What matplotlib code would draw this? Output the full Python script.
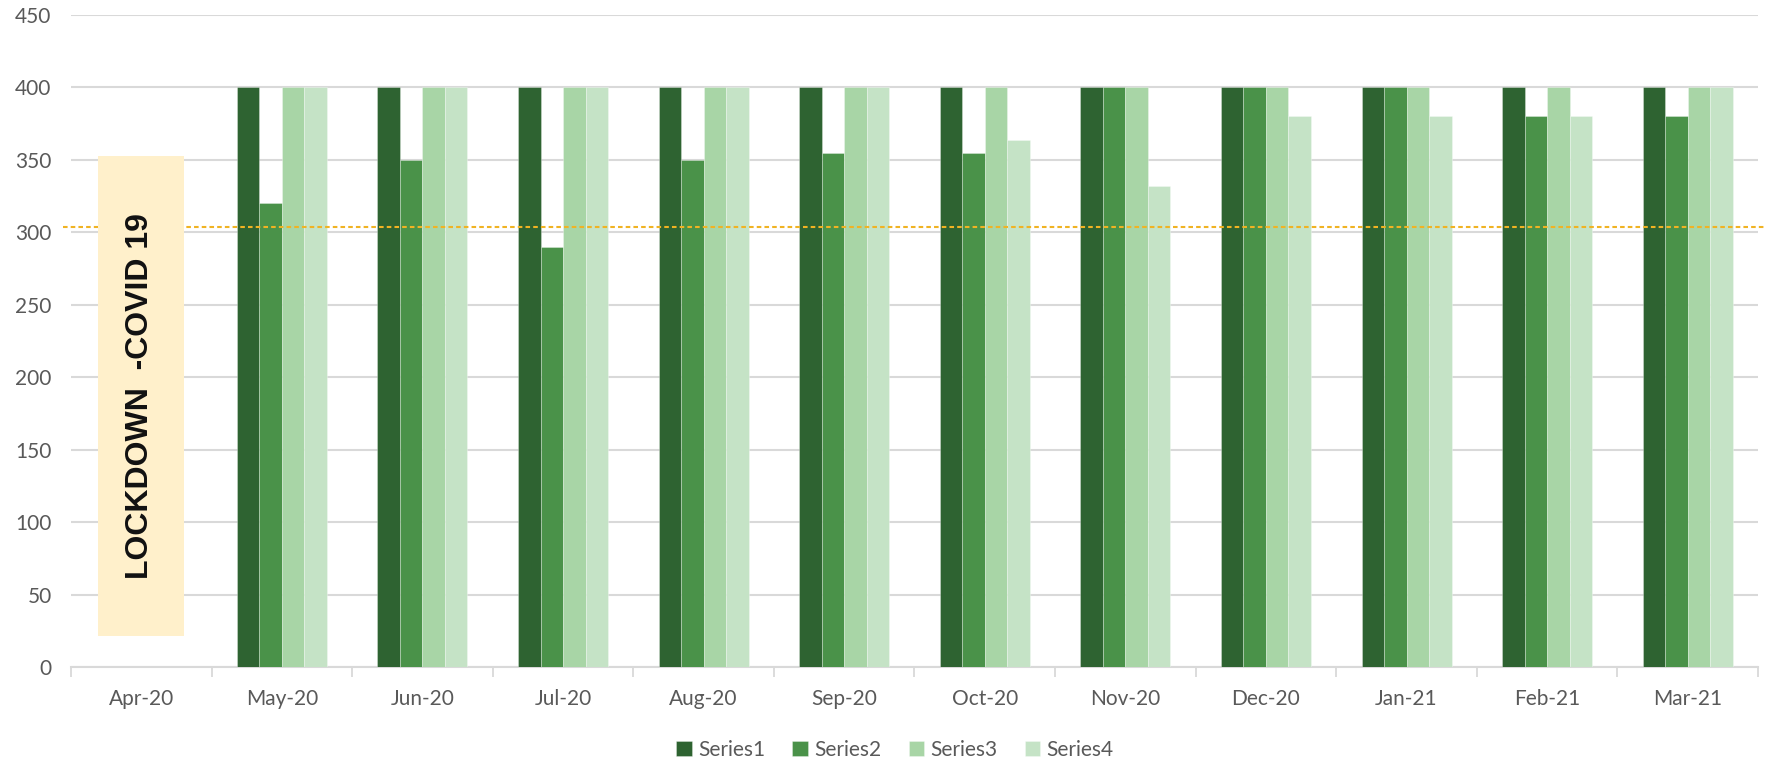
import numpy as np
import matplotlib.pyplot as plt
from matplotlib.patches import Rectangle

months = ['Apr-20', 'May-20', 'Jun-20', 'Jul-20', 'Aug-20', 'Sep-20',
          'Oct-20', 'Nov-20', 'Dec-20', 'Jan-21', 'Feb-21', 'Mar-21']
series1 = [np.nan, 400, 400, 400, 400, 400, 400, 400, 400, 400, 400, 400]
series2 = [np.nan, 320, 350, 290, 350, 355, 355, 400, 400, 400, 380, 380]
series3 = [np.nan, 400, 400, 400, 400, 400, 400, 400, 400, 400, 400, 400]
series4 = [np.nan, 400, 400, 400, 400, 400, 364, 332, 380, 380, 380, 400]
series_names = ['Series1', 'Series2', 'Series3', 'Series4']
colors = ['#2e6331', '#4a9249', '#a8d5a6', '#c5e3c6']
target = 304
lockdown_lo, lockdown_hi = 21.6, 353
lockdown_text = 'LOCKDOWN  -COVID 19'

plt.rcParams['font.family'] = ['Lato', 'DejaVu Sans']

fig = plt.figure(figsize=(17.71, 7.65), dpi=100)
ax = fig.add_axes([71 / 1771, 1 - 667 / 765, (1758 - 71) / 1771, (667 - 15) / 765])

x = np.arange(len(months))
w = 0.16
for i, (vals, name) in enumerate(zip([series1, series2, series3, series4], series_names)):
    ax.bar(x + (i - 1.5) * w, vals, w, color=colors[i], label=name,
           edgecolor=(1, 1, 1, 0.35), linewidth=0.6, zorder=3)

# target line
ax.axhline(target, xmin=-0.005, xmax=1.004, color='#f0b323', linestyle=(0, (2.2, 1.5)),
           linewidth=1.5, zorder=4, clip_on=False)

# lockdown box
ax.add_patch(Rectangle((-0.305, lockdown_lo), 0.61, lockdown_hi - lockdown_lo,
                       facecolor='#fff0cb', edgecolor='none', zorder=5))
ax.text(-0.01, (lockdown_lo + lockdown_hi) / 2, lockdown_text, rotation=90,
        ha='center', va='center', fontsize=23, fontweight='bold',
        family=['Liberation Sans', 'DejaVu Sans'], color='#111111', zorder=6)

ax.set_xlim(-0.5, len(months) - 0.5)
ax.set_ylim(0, 450)
ax.set_yticks(range(0, 451, 50))
ax.yaxis.grid(True, color='#d9d9d9', linewidth=1.5, zorder=0)
ax.set_axisbelow(True)

ax.set_xticks(x)
ax.set_xticklabels(months)
ax.set_xticks(np.arange(-0.5, len(months), 1), minor=True)
ax.tick_params(axis='x', which='major', length=0, pad=16, labelsize=15, labelcolor='#595959')
ax.tick_params(axis='x', which='minor', length=7, width=1.3, color='#d9d9d9')
ax.tick_params(axis='y', length=0, pad=14, labelsize=15, labelcolor='#595959')

for s in ['top', 'right', 'left']:
    ax.spines[s].set_visible(False)
ax.spines['bottom'].set_color('#d9d9d9')
ax.spines['bottom'].set_linewidth(1.5)

handles, labels = ax.get_legend_handles_labels()
fig.legend(handles, labels, loc='center', bbox_to_anchor=(895 / 1771, 1 - 750 / 765),
           ncol=4, frameon=False, fontsize=15, labelcolor='#595959',
           handlelength=0.75, handleheight=0.75, handletextpad=0.3, columnspacing=1.3)

plt.savefig('out.png', dpi=100)
